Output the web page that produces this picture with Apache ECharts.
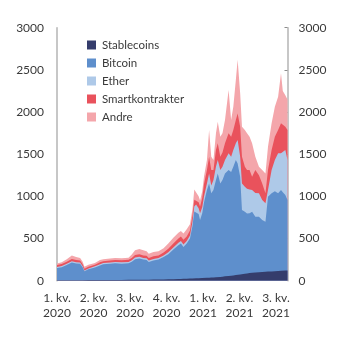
<!DOCTYPE html>
<html>
<head>
<meta charset="utf-8">
<script src="https://cdn.jsdelivr.net/npm/echarts@6/dist/echarts.min.js"></script>
<style>html,body{margin:0;padding:0;background:#fff}#c{width:345px;height:341px}</style>
</head>
<body>
<div id="c"></div>
<script>
// Sample dates (daily data simplified to key points)
var dates = ['2020-01-01','2020-01-14','2020-01-28','2020-02-11','2020-02-23','2020-03-05','2020-03-12','2020-03-17','2020-03-28','2020-04-15','2020-04-29','2020-05-08','2020-05-27','2020-06-10','2020-06-28','2020-07-17','2020-07-26','2020-08-04','2020-08-16','2020-08-27','2020-09-05','2020-09-11','2020-09-24','2020-10-08','2020-10-22','2020-11-04','2020-11-18','2020-12-02','2020-12-09','2020-12-16','2020-12-25','2021-01-03','2021-01-10','2021-01-15','2021-01-20','2021-01-27','2021-01-31','2021-02-06','2021-02-11','2021-02-19','2021-02-25','2021-03-03','2021-03-09','2021-03-16','2021-03-21','2021-03-28','2021-04-03','2021-04-10','2021-04-20','2021-04-27','2021-05-03','2021-05-10','2021-05-15','2021-05-22','2021-05-27','2021-06-04','2021-06-10','2021-06-17','2021-06-24','2021-07-03','2021-07-13','2021-07-22','2021-07-31','2021-08-07','2021-08-17','2021-08-26','2021-09-04','2021-09-12','2021-09-17','2021-09-24','2021-09-30'];
// Cumulative (stacked) levels: top edge of each band
var stablecoins = [5,5,5,6,6,6,6,6,7,7,7,8,8,9,9,10,10,11,11,12,12,12,13,14,15,17,18,20,21,22,24,26,27,28,28,29,30,31,32,34,35,37,39,41,43,45,48,52,56,60,63,67,70,74,77,82,86,90,94,97,100,103,106,108,110,112,115,118,119,120,122];
var topBitcoin = [150,160,185,215,205,200,160,112,135,158,180,195,200,206,202,206,225,255,262,250,245,222,240,250,280,315,370,420,440,400,440,500,650,820,840,790,720,800,930,1075,1154,1036,1075,1194,1272,1154,1194,1272,1312,1290,1351,1431,1391,1233,838,818,798,800,818,759,759,719,700,996,1036,1060,1036,1075,1050,1016,957];
var topEther = [163,174,200,232,220,215,172,122,146,170,195,210,215,222,218,222,243,275,283,270,265,240,258,268,300,338,395,450,472,430,470,535,700,880,905,860,800,870,1000,1154,1272,1130,1194,1352,1431,1312,1352,1431,1510,1470,1550,1629,1668,1470,1154,1115,1090,1080,1075,1040,1036,957,917,1075,1312,1431,1510,1510,1530,1550,1431];
var topSmart = [185,197,225,258,245,240,195,142,165,190,220,232,240,245,243,248,270,305,315,300,295,270,290,300,335,378,440,500,525,485,525,595,770,960,980,930,880,980,1150,1312,1470,1312,1312,1550,1629,1470,1520,1629,1747,1708,1787,1905,1984,1826,1470,1352,1312,1312,1233,1312,1250,1154,1036,1312,1550,1708,1787,1866,1850,1826,1787];
var topTotal = [205,220,255,300,280,268,225,165,188,210,245,255,262,268,265,272,310,360,375,360,350,320,340,350,385,440,510,570,590,560,610,670,850,1080,1060,1000,950,1060,1240,1431,1787,1470,1431,1747,1886,1708,1747,1905,2261,1905,2064,2380,2620,2222,1826,1787,1747,1708,1629,1470,1352,1312,1272,1589,1866,2064,2182,2460,2250,2200,2150];
var quarterLabels = ['1. kv.\n2020','2. kv.\n2020','3. kv.\n2020','4. kv.\n2020','1. kv.\n2021','2. kv.\n2021','3. kv.\n2021'];

var names = ['Stablecoins','Bitcoin','Ether','Smartkontrakter','Andre'];
var colors = ['#353d6c','#5e8fcc','#aec9e8','#e9525c','#f4a6ab'];

var t0 = Date.parse('2020-01-01T00:00:00Z');
var xs = dates.map(function(d){ return Math.round((Date.parse(d + 'T00:00:00Z') - t0) / 864e5); });
var levels = [stablecoins, topBitcoin, topEther, topSmart, topTotal];
// Draw the cumulative levels from the top band down, so each lower band covers the one above it
var series = [];
for (var k = names.length - 1; k >= 0; k--) {
  (function(k){
    series.push({
      name: names[k], type: 'line', showSymbol: false, symbol: 'none',
      lineStyle: {width: 0}, areaStyle: {color: colors[k], opacity: 1, origin: 'start'},
      itemStyle: {color: colors[k]},
      data: xs.map(function(x, i){ return [x, levels[k][i]]; })
    });
  })(k);
}

var font = 'Lato';
var fs = 11;
var chart = echarts.init(document.getElementById('c'), null, {renderer: 'canvas'});
var yAxisBase = function(pos){
  return {
    type: 'value', position: pos, min: 0, max: 3000, interval: 500,
    splitLine: {show: false},
    axisLine: {show: true, lineStyle: {color: '#b4b4b4', width: 1.5}},
    axisTick: {show: pos === 'right', inside: true, length: 3, lineStyle: {color: '#8c8c8c'}},
    axisLabel: {color: '#3a3a3a', fontFamily: font, fontSize: fs + 1, margin: pos === 'right' ? 11 : 13,
      formatter: function(v){ return String(v); }}
  };
};
chart.setOption({
  animation: false,
  grid: {left: 57, right: 57.5, top: 27.7, bottom: 60.3},
  legend: {
    orient: 'vertical', left: 82, top: 34, itemWidth: 9, itemHeight: 9, itemGap: 6,
    icon: 'rect', data: names,
    textStyle: {color: '#3a3a3a', fontFamily: font, fontSize: fs + 0.5, lineHeight: 12, padding: [0,0,0,1]}
  },
  xAxis: {
    type: 'value', min: 0, max: 638, interval: 101,
    splitLine: {show: false},
    axisLine: {show: true, onZero: false, lineStyle: {color: '#b4b4b4', width: 1}},
    axisTick: {show: false},
    axisLabel: {
      color: '#3a3a3a', fontFamily: font, fontSize: fs + 1, lineHeight: 15, margin: 10,
      showMaxLabel: false,
      formatter: function(v){ var i = Math.round(v / 101); return quarterLabels[i] || ''; }
    }
  },
  yAxis: [yAxisBase('left'), yAxisBase('right')],
  series: series
});
</script>
</body>
</html>
